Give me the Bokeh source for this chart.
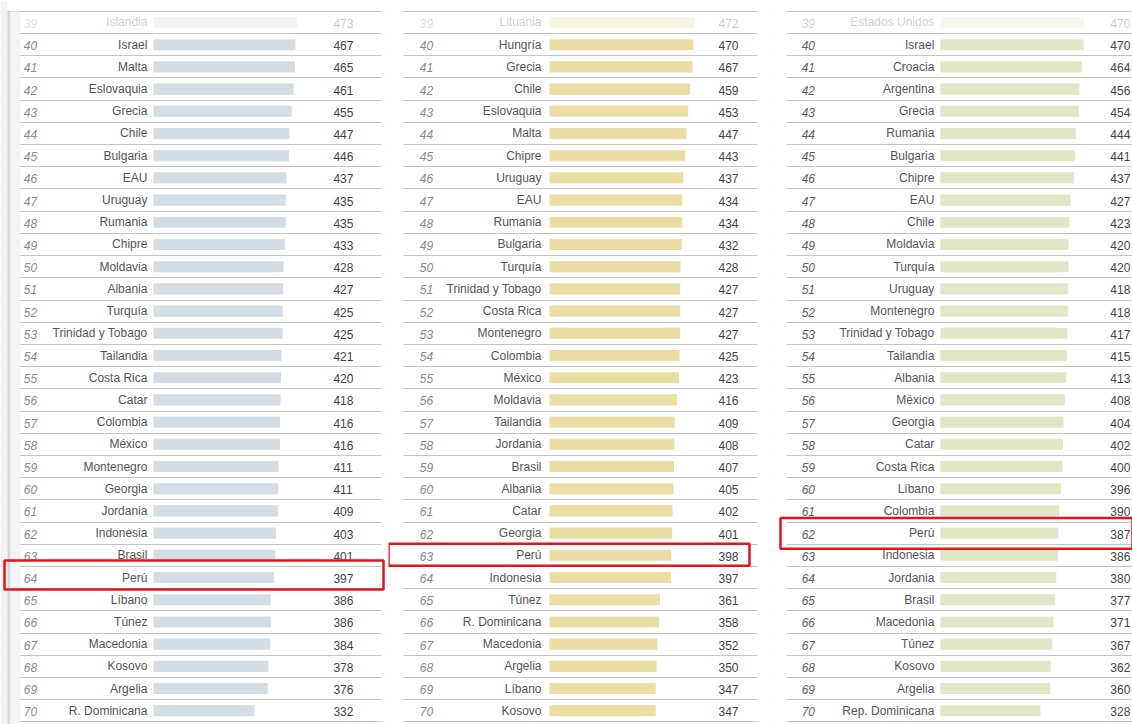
from bokeh.plotting import figure
from bokeh.layouts import row
from bokeh.models import ColumnDataSource, Range1d, Grid, FixedTicker, BoxAnnotation
from bokeh.core.properties import value
from bokeh.embed import file_html
from bokeh.resources import INLINE

# ---------------- data ----------------
ranks = list(range(39, 71))

countries_a = ["Islandia", "Israel", "Malta", "Eslovaquia", "Grecia", "Chile", "Bulgaria", "EAU",
               "Uruguay", "Rumania", "Chipre", "Moldavia", "Albania", "Turquía", "Trinidad y Tobago",
               "Tailandia", "Costa Rica", "Catar", "Colombia", "México", "Montenegro", "Georgia",
               "Jordania", "Indonesia", "Brasil", "Perú", "Líbano", "Túnez", "Macedonia", "Kosovo",
               "Argelia", "R. Dominicana"]
scores_a = [473, 467, 465, 461, 455, 447, 446, 437, 435, 435, 433, 428, 427, 425, 425, 421, 420,
            418, 416, 416, 411, 411, 409, 403, 401, 397, 386, 386, 384, 378, 376, 332]

countries_b = ["Lituania", "Hungría", "Grecia", "Chile", "Eslovaquia", "Malta", "Chipre", "Uruguay",
               "EAU", "Rumania", "Bulgaria", "Turquía", "Trinidad y Tobago", "Costa Rica",
               "Montenegro", "Colombia", "México", "Moldavia", "Tailandia", "Jordania", "Brasil",
               "Albania", "Catar", "Georgia", "Perú", "Indonesia", "Túnez", "R. Dominicana",
               "Macedonia", "Argelia", "Líbano", "Kosovo"]
scores_b = [472, 470, 467, 459, 453, 447, 443, 437, 434, 434, 432, 428, 427, 427, 427, 425, 423,
            416, 409, 408, 407, 405, 402, 401, 398, 397, 361, 358, 352, 350, 347, 347]

countries_c = ["Estados Unidos", "Israel", "Croacia", "Argentina", "Grecia", "Rumania", "Bulgaria",
               "Chipre", "EAU", "Chile", "Moldavia", "Turquía", "Uruguay", "Montenegro",
               "Trinidad y Tobago", "Tailandia", "Albania", "México", "Georgia", "Catar",
               "Costa Rica", "Líbano", "Colombia", "Perú", "Indonesia", "Jordania", "Brasil",
               "Macedonia", "Túnez", "Kosovo", "Argelia", "Rep. Dominicana"]
scores_c = [470, 470, 464, 456, 454, 444, 441, 437, 427, 423, 420, 420, 418, 418, 417, 415, 413,
            408, 404, 402, 400, 396, 390, 387, 386, 380, 377, 371, 367, 362, 360, 328]

highlight = "Perú"

FONT = "Liberation Sans"
HEIGHT = 724


def white_band(p, left, right):
    p.add_layout(BoxAnnotation(left=left, right=right, left_units="screen", right_units="screen",
                               fill_color="white", fill_alpha=1, line_alpha=0, level="underlay"))


def panel(names, scores, width, xr, bar_color, rank_dx, name_dx, val_dx, rank_color,
          box_top, box_bottom, box_left, box_right, gaps=(), shadow=False):
    alphas = [0.3 if i == 0 else 1.0 for i in range(len(names))]
    src = ColumnDataSource(dict(rank=ranks, name=names, score=scores,
                                rank_txt=[str(r) for r in ranks],
                                score_txt=[str(s) for s in scores], a=alphas))
    p = figure(width=width, height=HEIGHT, output_backend="svg", toolbar_location=None,
               x_range=Range1d(*xr), y_range=Range1d(70.62, 38.01),
               x_axis_location=None, y_axis_location=None, min_border=0,
               outline_line_color=None, background_fill_color="white",
               border_fill_color="white")
    p.xgrid.visible = False
    p.ygrid.visible = False
    bounds = [ranks[0] - 0.5] + [r + 0.5 for r in ranks]
    p.add_layout(Grid(dimension=1, ticker=FixedTicker(ticks=bounds),
                      grid_line_color="#c4c4c4", grid_line_width=1))
    for g in gaps:
        white_band(p, *g)
    if shadow:
        p.add_layout(BoxAnnotation(left=0, right=7, left_units="screen", right_units="screen",
                                   fill_color="#f4f4f4", fill_alpha=1, line_alpha=0,
                                   level="underlay"))
        p.add_layout(BoxAnnotation(left=7, right=10, left_units="screen", right_units="screen",
                                   top=38.5, fill_color="#d9d9d9", fill_alpha=1, line_alpha=0,
                                   level="underlay"))
        p.add_layout(BoxAnnotation(left=10, right=20, left_units="screen", right_units="screen",
                                   top=38.5, fill_color="#f3f3f3", fill_alpha=1, line_alpha=0,
                                   level="underlay"))
    p.hbar(y="rank", left=0, right="score", height=0.5, source=src,
           fill_color=bar_color, line_color=None, fill_alpha="a")
    p.text(x=0, y="rank", text="rank_txt", source=src, x_offset=rank_dx, y_offset=1,
           text_align="center", text_baseline="middle", text_font=value(FONT),
           text_font_style="italic", text_font_size="12px", text_color=rank_color,
           text_alpha="a")
    p.text(x=0, y="rank", text="name", source=src, x_offset=name_dx, y_offset=0,
           text_align="right", text_baseline="middle", text_font=value(FONT),
           text_font_size="12px", text_color="#555555", text_alpha="a")
    p.text(x=0, y="rank", text="score_txt", source=src, x_offset=val_dx, y_offset=1,
           text_align="left", text_baseline="middle", text_font=value(FONT),
           text_font_size="12px", text_color="#444444", text_alpha="a")
    hr = ranks[names.index(highlight)]
    box = BoxAnnotation(top=hr - box_top, bottom=hr + box_bottom,
                        fill_alpha=0, line_color="#e3141c", line_alpha=1, line_width=2.5)
    if box_left is not None:
        box.left = box_left
        box.left_units = "screen"
    if box_right is not None:
        box.right = box_right
        box.right_units = "screen"
    p.add_layout(box)
    return p


p1 = panel(countries_a, scores_a, 388, (-503, 773), "#d4dce4", -123, -6, 180, "#8a8a8a",
           0.77, 0.54, 4, 383, gaps=[(381, 388)], shadow=True)
p2 = panel(countries_b, scores_b, 382, (-526, 722), "#ebdea4", -123, -8, 169, "#8a8a8a",
           0.52, 0.47, None, 361, gaps=[(0, 15), (369, 382)])
p3 = panel(countries_c, scores_c, 362, (-557, 630), "#e1e7c6", -132, -6, 170, "#606060",
           0.68, 0.7, 10, None, gaps=[(0, 16)])

layout = row(p1, p2, p3, spacing=0)

open("out.html", "w").write(file_html(layout, INLINE))
